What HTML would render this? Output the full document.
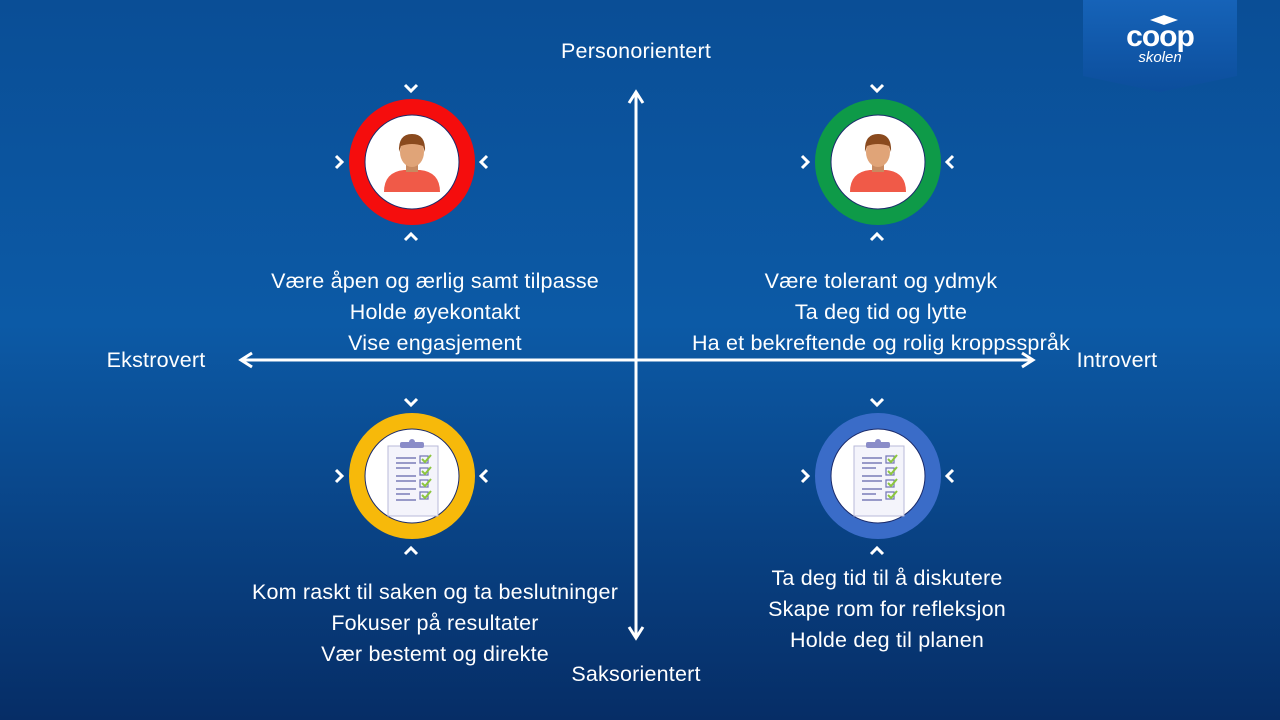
<!DOCTYPE html>
<html><head><meta charset="utf-8"><style>
html,body{margin:0;padding:0;width:1280px;height:720px;overflow:hidden}
text{font-family:"Liberation Sans",sans-serif;fill:#fff}
</style></head><body>
<svg width="1280" height="720" viewBox="0 0 1280 720" xmlns="http://www.w3.org/2000/svg">
<defs>
<linearGradient id="bg" x1="0" y1="0" x2="0" y2="1">
<stop offset="0" stop-color="#0a4e96"/>
<stop offset="0.45" stop-color="#0c5aa6"/>
<stop offset="1" stop-color="#062d66"/>
</linearGradient>
<linearGradient id="logo" x1="0" y1="0" x2="0" y2="1">
<stop offset="0" stop-color="#1663b8"/><stop offset="1" stop-color="#0c4e9c"/>
</linearGradient>
<g id="person">
<path d="M-28,28 Q-28,8 -8,6 L8,6 Q28,8 28,28 Z" fill="#f05a48"/>
<rect x="-6" y="-2" width="12" height="10" fill="#c88a60"/>
<ellipse cx="0" cy="-12" rx="12" ry="15" fill="#e0a478"/>
<path d="M-13,-12 Q-14,-30 0,-30 Q14,-30 13,-12 L11,-18 Q0,-22 -11,-18 Z" fill="#8a4a1e"/>
</g>
<g id="clip">
<rect x="-24" y="-34" width="50" height="70" fill="#f4f4fb" stroke="#b8bad8" stroke-width="1"/>
<rect x="-12" y="-38" width="24" height="6" rx="2" fill="#8a8cc8"/>
<circle cx="0" cy="-38" r="3" fill="#8a8cc8"/>
<g stroke="#7a7cb8" stroke-width="1.5">
<line x1="-16" y1="-22" x2="4" y2="-22"/><line x1="-16" y1="-17" x2="4" y2="-17"/><line x1="-16" y1="-12" x2="-2" y2="-12"/>
<line x1="-16" y1="-4" x2="4" y2="-4"/><line x1="-16" y1="1" x2="4" y2="1"/>
<line x1="-16" y1="9" x2="4" y2="9"/><line x1="-16" y1="14" x2="-2" y2="14"/>
<line x1="-16" y1="20" x2="4" y2="20"/>
</g>
<g fill="none" stroke="#7a7cb8" stroke-width="1.3">
<rect x="8" y="-24" width="8" height="7"/><rect x="8" y="-12" width="8" height="7"/><rect x="8" y="0" width="8" height="7"/><rect x="8" y="12" width="8" height="7"/>
</g>
<g fill="none" stroke="#8cc63e" stroke-width="2">
<path d="M10,-21 l3,3 l6,-7"/><path d="M10,-9 l3,3 l6,-7"/><path d="M10,3 l3,3 l6,-7"/><path d="M10,15 l3,3 l6,-7"/>
</g>
</g>
</defs>
<rect width="1280" height="720" fill="url(#bg)"/>

<!-- logo -->
<path d="M1083,0 H1237 V76 L1160,92 L1083,76 Z" fill="url(#logo)"/>
<text x="1160" y="46" text-anchor="middle" font-size="30" font-weight="bold" letter-spacing="-1">coop</text>
<text x="1160" y="62" text-anchor="middle" font-size="15" font-style="italic">skolen</text>
<path d="M1150,20 l14,-5 l14,5 l-14,5 Z" fill="#fff"/>

<!-- axes -->
<g stroke="#fff" stroke-width="3" fill="none">
<line x1="636" y1="94" x2="636" y2="636"/>
<line x1="242" y1="360" x2="1031" y2="360"/>
<path d="M629,103 L636,92 L643,103"/>
<path d="M629,627 L636,638 L643,627"/>
<path d="M252,353 L241,360 L252,367"/>
<path d="M1022,353 L1033,360 L1022,367"/>
</g>

<g font-size="21.5" text-anchor="middle" letter-spacing="0.2">
<text x="636" y="58">Personorientert</text>
<text x="636" y="681">Saksorientert</text>
<text x="156" y="367">Ekstrovert</text>
<text x="1117" y="367">Introvert</text>
<text x="435" y="288">Være åpen og ærlig samt tilpasse</text>
<text x="435" y="319">Holde øyekontakt</text>
<text x="435" y="350">Vise engasjement</text>
<text x="881" y="288">Være tolerant og ydmyk</text>
<text x="881" y="319">Ta deg tid og lytte</text>
<text x="881" y="350">Ha et bekreftende og rolig kroppsspråk</text>
<text x="435" y="599">Kom raskt til saken og ta beslutninger</text>
<text x="435" y="630">Fokuser på resultater</text>
<text x="435" y="661">Vær bestemt og direkte</text>
<text x="887" y="585">Ta deg tid til å diskutere</text>
<text x="887" y="616">Skape rom for refleksjon</text>
<text x="887" y="647">Holde deg til planen</text>
</g>

<!-- circles -->
<g>
<circle cx="412" cy="162" r="55" fill="#fff" stroke="#f50d0d" stroke-width="16"/>
<circle cx="412" cy="162" r="47" fill="none" stroke="#1a2a6a" stroke-width="1"/>
<use href="#person" x="412" y="164"/>
<circle cx="878" cy="162" r="55" fill="#fff" stroke="#0e9a48" stroke-width="16"/>
<circle cx="878" cy="162" r="47" fill="none" stroke="#1a2a6a" stroke-width="1"/>
<use href="#person" x="878" y="164"/>
<circle cx="412" cy="476" r="55" fill="#fff" stroke="#f7b90a" stroke-width="16"/>
<circle cx="412" cy="476" r="47" fill="none" stroke="#1a2a6a" stroke-width="1"/>
<use href="#clip" x="412" y="480"/>
<circle cx="878" cy="476" r="55" fill="#fff" stroke="#3a6cc8" stroke-width="16"/>
<circle cx="878" cy="476" r="47" fill="none" stroke="#1a2a6a" stroke-width="1"/>
<use href="#clip" x="878" y="480"/>
</g>

<!-- chevrons -->
<g fill="none" stroke="#fff" stroke-width="3">
<g id="ch1">
<path d="M405,85 l6,6 l6,-6"/>
<path d="M405,240 l6,-6 l6,6"/>
<path d="M336,156 l6,6 l-6,6"/>
<path d="M487,156 l-6,6 l6,6"/>
</g>
<use href="#ch1" x="466" y="0"/>
<use href="#ch1" x="0" y="314"/>
<use href="#ch1" x="466" y="314"/>
</g>
</svg>
</body></html>
